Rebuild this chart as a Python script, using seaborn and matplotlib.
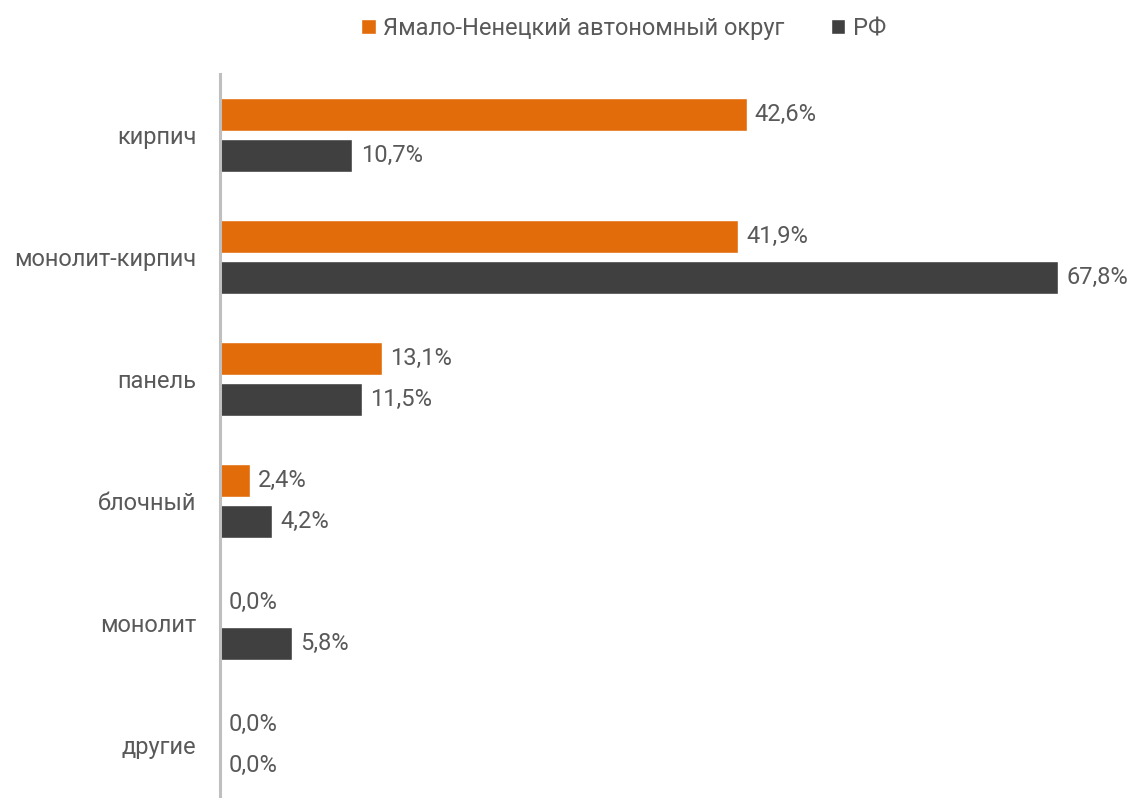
import pandas as pd
import matplotlib.pyplot as plt
import seaborn as sns

# data
categories = ['кирпич', 'монолит-кирпич', 'панель', 'блочный', 'монолит', 'другие']
yanao = [42.6, 41.9, 13.1, 2.4, 0.0, 0.0]
rf = [10.7, 67.8, 11.5, 4.2, 5.8, 0.0]
series_names = ['Ямало-Ненецкий автономный округ', 'РФ']

df = pd.DataFrame({
    'cat': categories * 2,
    'val': yanao + rf,
    'series': [series_names[0]] * len(categories) + [series_names[1]] * len(categories),
})

sns.set_style('white')
plt.rcParams['font.family'] = ['Roboto', 'DejaVu Sans']

text_col = '#595959'
fs = 17
palette = {series_names[0]: '#E36C0A', series_names[1]: '#404040'}

fig = plt.figure(figsize=(11.38, 7.98), dpi=100)
ax = fig.add_axes([220 / 1138, -8 / 798, 1 - 220 / 1138, 732 / 798])

sns.barplot(data=df, y='cat', x='val', hue='series', palette=palette,
            order=categories, hue_order=series_names, orient='h',
            width=0.67, gap=0.19, saturation=1, ax=ax)

ax.set_xlim(0, 918 / 12.36)
ax.set_ylim(5.5, -0.5)
ax.set_xlabel('')
ax.set_ylabel('')
ax.set_xticks([])
for s in ['top', 'right', 'bottom']:
    ax.spines[s].set_visible(False)
ax.spines['left'].set_color('#BFBFBF')
ax.spines['left'].set_linewidth(2.2)
ax.tick_params(axis='y', length=0, pad=17, labelsize=fs, labelcolor=text_col)

for cont in ax.containers:
    labels = [f'{v:.1f}%'.replace('.', ',') for v in cont.datavalues]
    ax.bar_label(cont, labels=labels, padding=6, fontsize=fs, color=text_col)

handles, labs = ax.get_legend_handles_labels()
ax.legend(handles, labs, loc='upper center', bbox_to_anchor=(0.548, 1.005),
          bbox_transform=fig.transFigure, ncol=2, frameon=False,
          fontsize=fs, labelcolor=text_col, handlelength=0.6, handleheight=0.6,
          handletextpad=0.3, columnspacing=2.0)

fig.savefig('out.png', dpi=100)
